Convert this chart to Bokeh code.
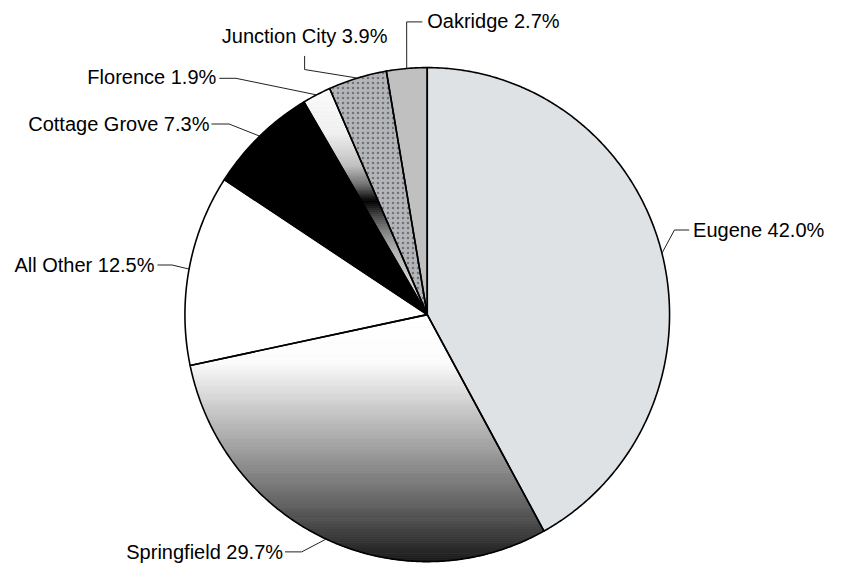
import numpy as np
from bokeh.plotting import figure
from bokeh.models import Range1d
from bokeh.core.properties import value
from bokeh.embed import file_html
from bokeh.resources import INLINE

# ---------------- data ----------------
categories = ["Eugene", "Springfield", "All Other", "Cottage Grove",
              "Florence", "Junction City", "Oakridge"]
shares = [42.0, 29.7, 12.5, 7.3, 1.9, 3.9, 2.7]
labels = [f"{c} {v:.1f}%" for c, v in zip(categories, shares)]

# ---------------- styles / layout ----------------
W, H = 827, 565            # figure size in pixels
VW, VH = 843, 581          # coordinate space of the chart
CX, CY, RX, RY = 435, 323, 247, 254
FONT = "Liberation Sans"
FSIZE = "20px"

solid_fill = {
    "Eugene": "#DFE2E5",
    "All Other": "#FFFFFF",
    "Cottage Grove": "#000000",
    "Junction City": "#B3B5B8",
    "Oakridge": "#C0C0C0",
}
gradient_stops = {
    "Springfield": [(323, 255), (372, 252), (480, 140), (530, 85), (578, 25)],
    "Florence": [(88, 252), (137, 240), (170, 192), (190, 112), (207, 0),
                 (220, 64), (237, 128), (257, 176), (290, 210), (324, 225)],
}
# leader elbow, leader end, text anchor, alignment
label_layout = {
    "Eugene": ((687, 236), (702, 236), (706, 236), "left"),
    "Springfield": ((307, 567), (290, 567), (288, 567), "right"),
    "All Other": ((175, 272), (160, 272), (157, 272), "right"),
    "Cottage Grove": ((233, 127), (215, 127), (213, 127), "right"),
    "Florence": ((240, 80), (223, 80), (220, 79), "right"),
    "Junction City": ((310, 71), (310, 57), (310, 36), "center"),
    "Oakridge": ((414, 22), (430, 22), (435, 21), "left"),
}

p = figure(width=W, height=H, x_range=Range1d(0, VW),
           y_range=Range1d(VH, 0), output_backend="svg",
           toolbar_location=None, min_border=0,
           x_axis_location=None, y_axis_location=None)
p.grid.visible = False
p.outline_line_color = None
p.background_fill_color = "white"
p.border_fill_color = "white"

# slice geometry from the shares
cum = np.concatenate([[0.0], np.cumsum(shares)])
total = cum[-1]
t_start = np.radians(90 - 360 * cum[:-1] / total)
t_end = np.radians(90 - 360 * cum[1:] / total)


def slice_poly(a0, a1):
    n = max(6, int(abs(np.degrees(a1 - a0)) * 2))
    t = np.linspace(a0, a1, n)
    xs = [CX] + list(CX + RX * np.cos(t))
    ys = [CY] + list(CY - RY * np.sin(t))
    return xs, ys


def clip(pts, inside, inter):
    out = []
    for i in range(len(pts)):
        cur, prev = pts[i], pts[i - 1]
        if inside(cur):
            if not inside(prev):
                out.append(inter(prev, cur))
            out.append(cur)
        elif inside(prev):
            out.append(inter(prev, cur))
    return out


def at_y(yc):
    def f(a, b):
        t = (yc - a[1]) / (b[1] - a[1])
        return (a[0] + t * (b[0] - a[0]), yc)
    return f


def clip_slab(xs, ys, y0, y1):
    pts = list(zip(xs, ys))
    pts = clip(pts, lambda q: q[1] >= y0, at_y(y0))
    if pts:
        pts = clip(pts, lambda q: q[1] <= y1, at_y(y1))
    return pts


polys = [slice_poly(a0, a1) for a0, a1 in zip(t_start, t_end)]

# fills
for cat, (xs, ys) in zip(categories, polys):
    if cat in gradient_stops:
        stops = gradient_stops[cat]
        sy = [s[0] for s in stops]
        sg = [s[1] for s in stops]
        y0, y1 = min(ys), max(ys)
        edges = np.arange(np.floor(y0), y1 + 2, 2.0)
        bx, by, bc = [], [], []
        for a, b in zip(edges[:-1], edges[1:]):
            pts = clip_slab(xs, ys, a, b)
            if len(pts) < 3:
                continue
            g = int(round(np.interp((a + b) / 2, sy, sg)))
            bx.append([q[0] for q in pts])
            by.append([q[1] for q in pts])
            bc.append("#%02x%02x%02x" % (g, g, g))
        p.patches(bx, by, fill_color=bc, line_color=bc, line_width=0.8)
    elif cat == "Junction City":
        p.patch(xs, ys, fill_color=solid_fill[cat], line_color=None,
                hatch_pattern="dot", hatch_color="#707276",
                hatch_scale=5, hatch_weight=2.2)
    else:
        p.patch(xs, ys, fill_color=solid_fill[cat], line_color=None)

# outlines
p.patches([pp[0] for pp in polys], [pp[1] for pp in polys],
          fill_color=None, line_color="black", line_width=1.6,
          line_join="round")

# leaders and labels
mid = (t_start + t_end) / 2
lx, ly = [], []
groups = {}
for cat, lab, m in zip(categories, labels, mid):
    ex, ey = CX + RX * np.cos(m), CY - RY * np.sin(m)
    (bx_, by_), (nx, ny), (tx, ty), al = label_layout[cat]
    lx.append([ex, bx_, nx])
    ly.append([ey, by_, ny])
    groups.setdefault(al, ([], [], []))
    groups[al][0].append(tx)
    groups[al][1].append(ty)
    groups[al][2].append(lab)

p.multi_line(lx, ly, line_color="#222222", line_width=1.0)
for al, (tx, ty, tt) in groups.items():
    p.text(tx, ty, text=tt, text_align=al, text_baseline="middle",
           text_font=value(FONT), text_font_size=value(FSIZE),
           text_color="black")

open("out.html", "w").write(file_html(p, INLINE))
